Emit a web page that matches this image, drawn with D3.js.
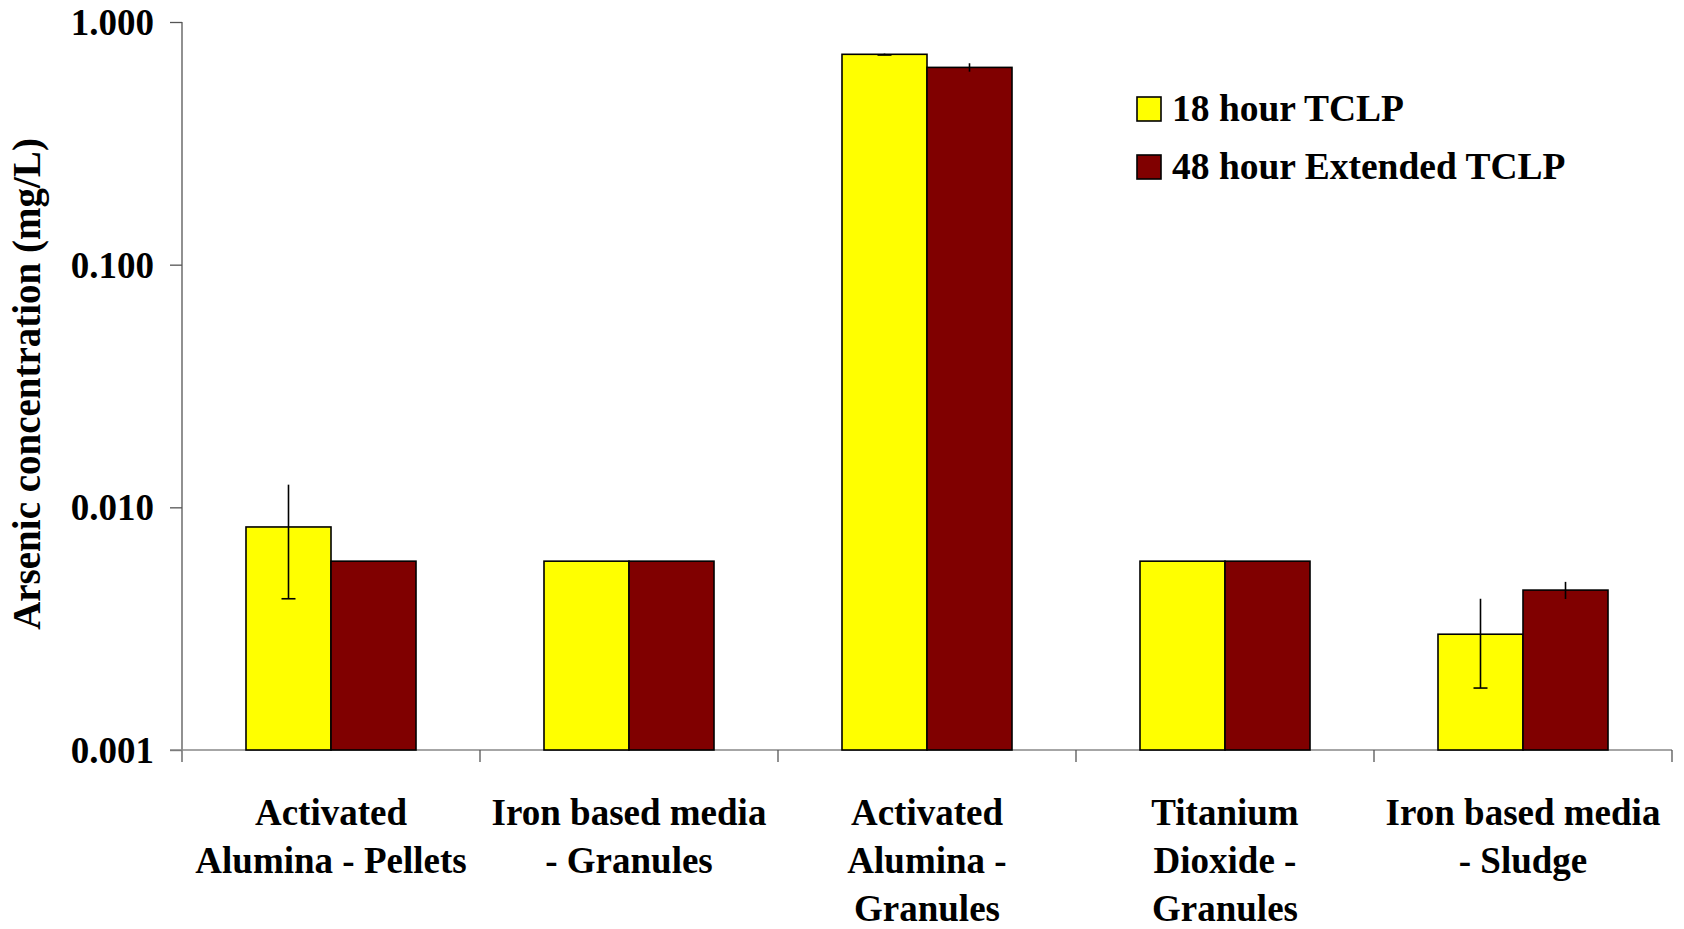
<!DOCTYPE html>
<html><head><meta charset="utf-8">
<script src="https://cdn.jsdelivr.net/npm/d3@7"></script>
<style>
html,body{margin:0;padding:0;background:#fff;}
svg text{font-family:"Liberation Serif","DejaVu Serif",serif;font-weight:bold;fill:#000;}
</style></head>
<body><svg id="c" width="1684" height="929"></svg>
<script>
const categories = ["Activated\nAlumina - Pellets","Iron based media\n- Granules","Activated\nAlumina -\nGranules","Titanium\nDioxide -\nGranules","Iron based media\n- Sludge"];
const seriesNames = ["18 hour TCLP","48 hour Extended TCLP"];
const seriesColors = ["#FFFF00","#800000"];
const tclp18 = [0.0083, 0.006, 0.736, 0.006, 0.0030];
const tclp48 = [0.0060, 0.006, 0.650, 0.006, 0.00456];
const err18 = [0.0041, 0, 0.005, 0, 0.0012];
const err48 = [0, 0, 0.026, 0, 0.00037];
const yTicks = [0.001, 0.01, 0.1, 1];
const yLabel = "Arsenic concentration (mg/L)";

const svg = d3.select("#c");
const pL = 182, pR = 1672, pT = 22, pB = 750;
const y = d3.scaleLog().domain([0.001, 1]).range([pB, pT]);
const x0 = d3.scaleBand().domain(categories).range([pL, pR]).paddingInner(0.4295).paddingOuter(0.21475);
const x1 = d3.scaleBand().domain(seriesNames).range([0, x0.bandwidth()]);
const values = [tclp18, tclp48];
const errs = [err18, err48];

// axes
const yAxis = svg.append("g").attr("transform", `translate(${pL},0)`)
  .call(d3.axisLeft(y).tickValues(yTicks).tickFormat(d3.format(".3f")).tickSizeOuter(0).tickSize(12).tickPadding(16));
yAxis.select(".domain").remove();
yAxis.selectAll(".tick line").attr("stroke", "#555").attr("stroke-width", 1.3);
yAxis.selectAll(".tick text").style("font-size", "37px").attr("dy", "0.34em");
svg.append("line").attr("x1", pL).attr("x2", pL).attr("y1", pT).attr("y2", pB + 12)
  .attr("stroke", "#555").attr("stroke-width", 1.3);

// x axis line + ticks at band edges
const xEdges = categories.map(c => x0(c) - x0.step() * x0.paddingInner() / 2);
xEdges.push(pR);
svg.append("line").attr("x1", pL - 12).attr("x2", pR).attr("y1", pB).attr("y2", pB)
  .attr("stroke", "#888").attr("stroke-width", 1.3);
svg.selectAll(".xt").data(xEdges.slice(1)).enter().append("line")
  .attr("x1", d => d).attr("x2", d => d).attr("y1", pB).attr("y2", pB + 12)
  .attr("stroke", "#555").attr("stroke-width", 1.3);

// bars
values.forEach((vals, si) => {
  svg.selectAll(".b" + si).data(categories).enter().append("rect")
    .attr("x", c => x0(c) + x1(seriesNames[si]))
    .attr("width", x1.bandwidth())
    .attr("y", (c, i) => y(vals[i]))
    .attr("height", (c, i) => pB - y(vals[i]))
    .attr("fill", seriesColors[si]).attr("stroke", "#000").attr("stroke-width", 1.6);
});

// error bars
values.forEach((vals, si) => {
  categories.forEach((c, i) => {
    const e = errs[si][i];
    if (!e) return;
    const cx = x0(c) + x1(seriesNames[si]) + x1.bandwidth() / 2;
    const y1 = y(vals[i] + e), y2 = y(vals[i] - e);
    svg.append("line").attr("x1", cx).attr("x2", cx).attr("y1", y1).attr("y2", y2)
      .attr("stroke", "#000").attr("stroke-width", 1.6);
    if (si === 0) {
      svg.append("line").attr("x1", cx - 7).attr("x2", cx + 7).attr("y1", y2).attr("y2", y2)
        .attr("stroke", "#000").attr("stroke-width", 1.6);
    }
  });
});

// category labels
categories.forEach(c => {
  const lines = c.split("\n");
  const t = svg.append("text").attr("text-anchor", "middle").style("font-size", "37px");
  lines.forEach((l, k) => {
    t.append("tspan").attr("x", x0(c) + x0.bandwidth() / 2).attr("y", 825 + k * 48).text(l);
  });
});

// y label
svg.append("text").attr("transform", "translate(40,384) rotate(-90)")
  .attr("text-anchor", "middle").style("font-size", "39px").text(yLabel);

// legend
seriesNames.forEach((s, i) => {
  const ly = 97 + i * 58;
  svg.append("rect").attr("x", 1137).attr("y", ly).attr("width", 24).attr("height", 24)
    .attr("fill", seriesColors[i]).attr("stroke", "#000").attr("stroke-width", 1.6);
  svg.append("text").attr("x", 1172).attr("y", ly + 24).style("font-size", "37.5px").text(s);
});
</script></body></html>
